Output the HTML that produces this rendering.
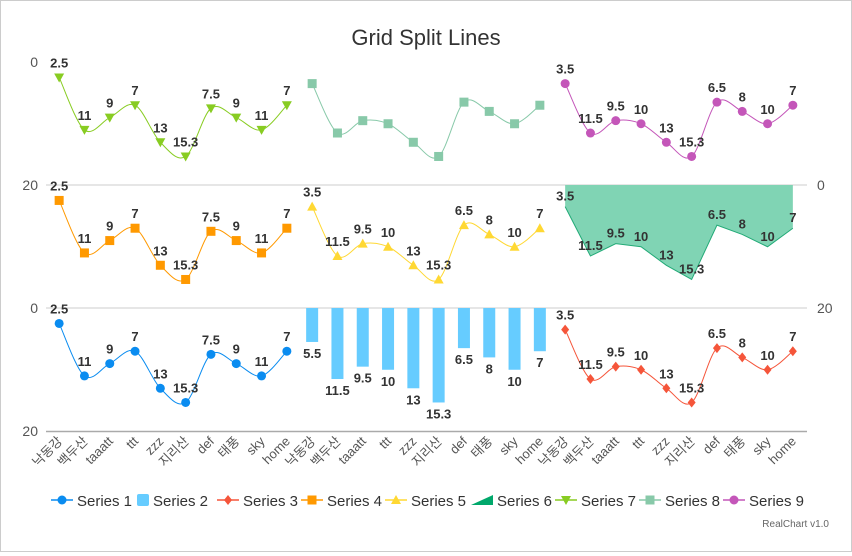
<!DOCTYPE html>
<html><head><meta charset="utf-8"><style>
body{margin:0;background:#fff;font-family:"Liberation Sans","Noto Sans CJK KR",sans-serif}
#wrap{width:850px;height:550px;border:1px solid #ccc;position:relative}
</style></head><body>
<div id="wrap">
<svg id="c" width="850" height="550"></svg>
</div>
<script>
const categories=["낙동강","백두산","taaatt","ttt","zzz","지리산","def","태풍","sky","home"];
const valuesA=[2.5,11,9,7,13,15.3,7.5,9,11,7];
const valuesB=[3.5,11.5,9.5,10,13,15.3,6.5,8,10,7];
const valuesBar=[5.5,11.5,9.5,10,13,15.3,6.5,8,10,7];
const yTicks=[0,20];
const seriesNames=["Series 1","Series 2","Series 3","Series 4","Series 5","Series 6","Series 7","Series 8","Series 9"];
const colors=["#0a8cf0","#66ccff","#f5553a","#ff9900","#ffd833","#00a86b","#88cc22","#88c9a9","#c456b9"];

const NS="http://www.w3.org/2000/svg";
const svg=document.getElementById('c');
function mk(t,a,p){const e=document.createElementNS(NS,t);for(const k in a)e.setAttribute(k,a[k]);(p||svg).appendChild(e);return e;}
const X0=45.5,colW=253,rowTop=[61,184,307],rowH=123.5;
function xs(col,i){return X0+col*colW+colW/10*(i+0.5);}
function ys(row,v){return rowTop[row]+v/20*rowH;}
function spline(pts){let d="M"+pts[0].join(",");for(let i=0;i<pts.length-1;i++){const p0=pts[i-1]||pts[i],p1=pts[i],p2=pts[i+1],p3=pts[i+2]||p2;const t=6;d+=` C${p1[0]+(p2[0]-p0[0])/t},${p1[1]+(p2[1]-p0[1])/t} ${p2[0]-(p3[0]-p1[0])/t},${p2[1]-(p3[1]-p1[1])/t} ${p2[0]},${p2[1]}`;}return d;}

let t=mk('text',{x:425,y:44,'text-anchor':'middle','font-size':22,fill:'#333'});t.textContent="Grid Split Lines";

// grid lines
[184,307].forEach(y=>{const l=mk('line',{x1:45,x2:806,y1:y,y2:y,stroke:'#ddd','stroke-width':1.5});});
const ax=mk('line',{x1:45,x2:806,y1:430.5,y2:430.5,stroke:'#aaa','stroke-width':1.5});

// left axis labels
const leftLabels=[[61,yTicks[0]],[184,yTicks[1]],[307,yTicks[0]],[430,yTicks[1]]];
leftLabels.forEach(([y,v])=>{const e=mk('text',{x:37,y:y+5,'text-anchor':'end','font-size':14,fill:'#555'});e.textContent=v;});
[[184,yTicks[0]],[307,yTicks[1]]].forEach(([y,v])=>{const e=mk('text',{x:816,y:y+5,'font-size':14,fill:'#555'});e.textContent=v;});
// x labels
for(let c=0;c<3;c++)categories.forEach((n,i)=>{const x=xs(c,i)+4,y=441;const e=mk('text',{x:x,y:y,'text-anchor':'end','font-size':13,fill:'#555',transform:`rotate(-45 ${x} ${y})`});e.textContent=n;});

function marker(type,x,y,col,g){
  let e;
  if(type==='circle')e=mk('circle',{cx:x,cy:y,r:4.5,fill:col},g);
  else if(type==='square')e=mk('rect',{x:x-4.5,y:y-4.5,width:9,height:9,fill:col},g);
  else if(type==='diamond')e=mk('path',{d:`M${x},${y-5}L${x+4},${y}L${x},${y+5}L${x-4},${y}Z`,fill:col},g);
  else if(type==='tri')e=mk('path',{d:`M${x},${y-5}L${x+5},${y+4}L${x-5},${y+4}Z`,fill:col},g);
  else if(type==='tridown')e=mk('path',{d:`M${x},${y+5}L${x+5},${y-4}L${x-5},${y-4}Z`,fill:col},g);
  
}
function label(x,y,v,g){const e=mk('text',{x:x,y:y,'text-anchor':'middle','font-size':13,'font-weight':'bold',fill:'#333'},g);e.textContent=v;}
function lineSeries(idx,row,col,vals,type,labels){
  const g=mk('g',{});
  const pts=vals.map((v,i)=>[xs(col,i),ys(row,v)]);
  mk('path',{d:spline(pts),fill:'none',stroke:colors[idx],'stroke-width':1},g);
  pts.forEach((p,i)=>{marker(type,p[0],p[1],colors[idx],g);if(labels)label(p[0],p[1]-10,vals[i],g);});
}
lineSeries(6,0,0,valuesA,'tridown',true);
lineSeries(7,0,1,valuesB,'square',false);
lineSeries(8,0,2,valuesB,'circle',true);
lineSeries(3,1,0,valuesA,'square',true);
lineSeries(4,1,1,valuesB,'tri',true);
lineSeries(0,2,0,valuesA,'circle',true);
lineSeries(2,2,2,valuesB,'diamond',true);
// area series 6
(function(){const g=mk('g',{});
 const pts=valuesB.map((v,i)=>[xs(2,i),ys(1,v)]);
 let d=`M${pts[0][0]},${ys(1,0)}`;pts.forEach(p=>d+=`L${p[0]},${p[1]}`);d+=`L${pts[pts.length-1][0]},${ys(1,0)}Z`;
 mk('path',{d:d,fill:'#80d4b4',stroke:'none'},g);
 mk('path',{d:'M'+pts.map(p=>p.join(',')).join('L'),fill:'none',stroke:'#22aa77','stroke-width':1},g);
 pts.forEach((p,i)=>label(p[0],p[1]-6,valuesB[i],g));})();
// bars series 2
(function(){const g=mk('g',{});
 valuesBar.forEach((v,i)=>{const x=xs(1,i),y0=ys(2,0),y1=ys(2,v);const r=mk('rect',{x:x-6,y:y0,width:12,height:y1-y0,fill:colors[1]},g);label(x,y1+16,v,g);});})();
// legend
const types=['circle','square','diamond','square','tri','area','tridown','square','circle'];
const lx=[50,132,216,300,384,470,554,638,722];
seriesNames.forEach((n,i)=>{const g=mk('g',{});
 const x=lx[i],y=499;
 if(types[i]==='area'){mk('path',{d:`M${x},${y+5}L${x+22},${y-5}L${x+22},${y+5}Z`,fill:colors[5]},g);}
 else if(i===1){mk('rect',{x:x+4,y:y-6,width:12,height:12,rx:2,fill:colors[1]},g);}
 else{mk('line',{x1:x,x2:x+22,y1:y,y2:y,stroke:colors[i],'stroke-width':1.5},g);marker(types[i],x+11,y,colors[i],g);}
 const e=mk('text',{x:x+(i===1?20:26),y:y+6,'font-size':15,fill:'#333'},g);e.textContent=n;});
const w=mk('text',{x:828,y:526,'text-anchor':'end','font-size':10,fill:'#666'});w.textContent="RealChart v1.0";

</script>
</body></html>
